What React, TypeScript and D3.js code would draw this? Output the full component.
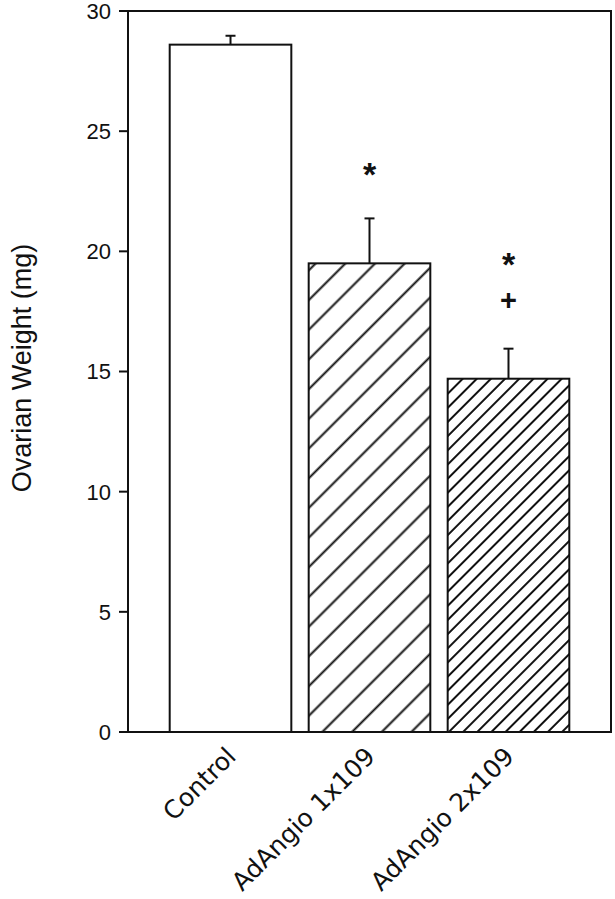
import * as d3 from 'd3';

// Ovarian weight per treatment group (mg), mean and SEM
const categories = ['Control', 'AdAngio 1x109', 'AdAngio 2x109'];
const meanWeight = [28.6, 19.5, 14.7];
const semWeight = [0.37, 1.87, 1.25];
const yTicks = [0, 5, 10, 15, 20, 25, 30];

// significance marks above bars
const markGroups = ['AdAngio 1x109', 'AdAngio 2x109', 'AdAngio 2x109'];
const markLevels = [23.6, 19.85, 18.0];
const markGlyphs = ['*', '*', '+'];

const W = 615;
const H = 899;
const left = 128;
const right = 611;
const top = 11;
const bottom = 732;

export default function App() {
  const x = d3.scaleBand<string>()
    .domain(categories)
    .range([left, right])
    .paddingInner(0.125)
    .paddingOuter(0.3);

  const y = d3.scaleLinear().domain([0, 30]).range([bottom, top]);

  const fills = ['#fff', 'url(#hatchWide)', 'url(#hatchNarrow)'];
  const sans = '"Liberation Sans", Arial, Helvetica, sans-serif';

  return (
    <svg
      width={W}
      height={H}
      style={{ position: 'absolute', left: 0, top: 0, background: '#fff' }}
    >
      <defs>
        <pattern id="hatchWide" patternUnits="userSpaceOnUse" width={21} height={21} patternTransform="rotate(45)">
          <rect width={21} height={21} fill="#fff" />
          <line x1={10.5} y1={0} x2={10.5} y2={21} stroke="#111" strokeWidth={2} />
        </pattern>
        <pattern id="hatchNarrow" patternUnits="userSpaceOnUse" width={10} height={10} patternTransform="rotate(45)">
          <rect width={10} height={10} fill="#fff" />
          <line x1={5} y1={0} x2={5} y2={10} stroke="#111" strokeWidth={2} />
        </pattern>
      </defs>

      {/* bars */}
      {categories.map((c, i) => (
        <rect
          key={c}
          x={x(c)}
          y={y(meanWeight[i])}
          width={x.bandwidth()}
          height={y(0) - y(meanWeight[i])}
          fill={fills[i]}
          stroke="#111"
          strokeWidth={2}
        />
      ))}

      {/* error bars (upper only) */}
      {categories.map((c, i) => {
        const cx = (x(c) as number) + x.bandwidth() / 2;
        const yt = y(meanWeight[i] + semWeight[i]);
        return (
          <g key={'e' + c} stroke="#111" strokeWidth={2}>
            <line x1={cx} x2={cx} y1={y(meanWeight[i])} y2={yt} />
            <line x1={cx - 5} x2={cx + 5} y1={yt} y2={yt} />
          </g>
        );
      })}

      {/* frame */}
      <path
        d={`M${left},${top}H${right}V${bottom}H${left}Z`}
        fill="none"
        stroke="#111"
        strokeWidth={2}
      />

      {/* y ticks */}
      {yTicks.map((t) => (
        <g key={t}>
          <line x1={left - 9} x2={left} y1={y(t)} y2={y(t)} stroke="#111" strokeWidth={2} />
          <text
            x={111}
            y={y(t)}
            dy="0.36em"
            textAnchor="end"
            fontFamily={sans}
            fontSize={22}
            fill="#111"
          >
            {t}
          </text>
        </g>
      ))}

      <text
        transform={`translate(31,368) rotate(-90)`}
        textAnchor="middle"
        fontFamily={sans}
        fontSize={27}
        fill="#111"
      >
        Ovarian Weight (mg)
      </text>

      {/* x labels */}
      {categories.map((c) => {
        const cx = (x(c) as number) + x.bandwidth() / 2;
        return (
          <text
            key={'l' + c}
            transform={`translate(${cx + 7},758) rotate(-45)`}
            textAnchor="end"
            fontFamily='"DejaVu Sans", Verdana, sans-serif'
            fontSize={25}
            fill="#111"
          >
            {c}
          </text>
        );
      })}

      {/* significance marks */}
      {markGroups.map((g, i) => {
        const cx = (x(g) as number) + x.bandwidth() / 2;
        const isStar = markGlyphs[i] === '*';
        return (
          <text
            key={'m' + i}
            x={cx}
            y={y(markLevels[i])}
            dy={isStar ? '0.62em' : '0.36em'}
            textAnchor="middle"
            fontFamily={sans}
            fontWeight="bold"
            fontSize={isStar ? 34 : 29}
            fill="#111"
          >
            {markGlyphs[i]}
          </text>
        );
      })}
    </svg>
  );
}
